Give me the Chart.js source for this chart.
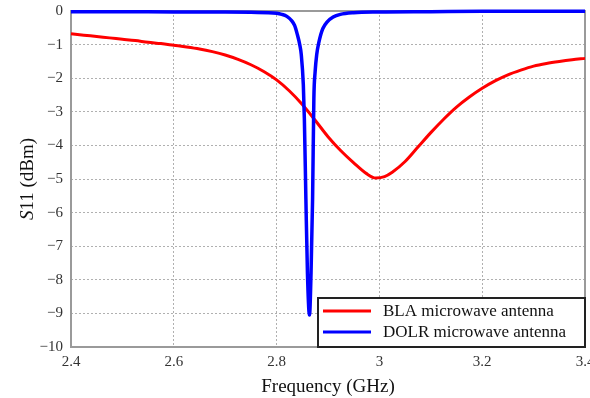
<!DOCTYPE html>
<html>
<head>
<meta charset="utf-8">
<script src="https://cdn.jsdelivr.net/npm/chart.js@4/dist/chart.umd.min.js"></script>
<style>
  html, body { margin: 0; padding: 0; background: #fff; }
  #wrap { width: 590px; height: 398px; }
</style>
</head>
<body>
<div id="wrap"><canvas id="chart-s11"></canvas></div>
<script>
// BLA microwave antenna
var freqBla = [2.400, 2.425, 2.450, 2.475, 2.500, 2.525, 2.550, 2.575, 2.600, 2.625, 2.650, 2.675, 2.700, 2.725, 2.750, 2.775, 2.800, 2.825, 2.850, 2.875, 2.900, 2.925, 2.950, 2.975, 2.993, 3.010, 3.025, 3.050, 3.075, 3.100, 3.125, 3.150, 3.175, 3.200, 3.225, 3.250, 3.275, 3.300, 3.325, 3.350, 3.375, 3.400];
var s11Bla  = [-0.68, -0.72, -0.76, -0.80, -0.84, -0.88, -0.93, -0.97, -1.02, -1.07, -1.13, -1.21, -1.31, -1.44, -1.60, -1.80, -2.05, -2.38, -2.78, -3.25, -3.74, -4.16, -4.52, -4.84, -4.97, -4.93, -4.80, -4.48, -4.05, -3.62, -3.22, -2.86, -2.56, -2.30, -2.08, -1.90, -1.76, -1.64, -1.56, -1.50, -1.45, -1.41];

// DOLR microwave antenna
var freqDolr = [2.40, 2.50, 2.60, 2.70, 2.75, 2.80, 2.81, 2.82, 2.83, 2.835, 2.84, 2.845, 2.848, 2.852, 2.854, 2.857, 2.860, 2.864, 2.867, 2.870, 2.8725, 2.875, 2.878, 2.882, 2.886, 2.89, 2.898, 2.91, 2.924, 2.95, 3.00, 3.10, 3.20, 3.40];
var s11Dolr  = [-0.02, -0.02, -0.03, -0.03, -0.04, -0.07, -0.10, -0.16, -0.30, -0.43, -0.68, -1.00, -1.30, -2.20, -3.20, -5.60, -7.80, -9.05, -7.80, -5.60, -2.60, -1.80, -1.30, -0.95, -0.70, -0.52, -0.33, -0.18, -0.10, -0.05, -0.03, -0.02, -0.01, -0.01];

var xTicks = [2.4, 2.6, 2.8, 3.0, 3.2, 3.4];

function pts(xs, ys) {
    return xs.map(function (x, i) { return { x: x, y: ys[i] }; });
}

var serif = "'Liberation Serif', 'DejaVu Serif', serif";

// frame + y title + legend box
var extras = {
    id: 'extras',
    beforeDatasetsDraw: function (chart) {
        var a = chart.chartArea, c = chart.ctx;
        c.save();
        c.strokeStyle = '#9a9a9a';
        c.lineWidth = 2;
        c.strokeRect(a.left, a.top, a.right - a.left, a.bottom - a.top);
        c.restore();
    },
    afterDraw: function (chart) {
        var a = chart.chartArea, c = chart.ctx;
        // y axis title with italic S
        c.save();
        c.translate(28, (a.top + a.bottom) / 2);
        c.rotate(-Math.PI / 2);
        c.fillStyle = '#111';
        c.textBaseline = 'middle';
        c.font = 'italic 19px ' + serif;
        var w1 = c.measureText('S').width;
        c.font = '19px ' + serif;
        var w2 = c.measureText('11 (dBm)').width;
        var x0 = -(w1 + w2) / 2;
        c.font = 'italic 19px ' + serif;
        c.fillText('S', x0, 0);
        c.font = '19px ' + serif;
        c.fillText('11 (dBm)', x0 + w1, 0);
        c.restore();

        // legend
        var bx = 318, by = 298, bw = a.right - bx, bh = a.bottom - by;
        c.save();
        c.fillStyle = '#fff';
        c.fillRect(bx, by, bw, bh);
        c.strokeStyle = '#222';
        c.lineWidth = 2;
        c.strokeRect(bx, by, bw, bh);
        c.font = '17px ' + serif;
        c.textBaseline = 'middle';
        chart.data.datasets.forEach(function (ds, i) {
            var yy = by + 13 + i * 21;
            c.strokeStyle = ds.borderColor;
            c.lineWidth = 3;
            c.beginPath();
            c.moveTo(323, yy);
            c.lineTo(371, yy);
            c.stroke();
            c.fillStyle = '#111';
            c.fillText(ds.label, 383, yy + 1);
        });
        c.restore();
    }
};

var ctx = document.getElementById("chart-s11").getContext("2d");
var chart = new Chart(ctx, {
    type: 'line',
    data: {
        datasets: [{
            label: 'BLA microwave antenna',
            data: pts(freqBla, s11Bla),
            borderColor: 'rgb(255,0,0)',
            borderWidth: 3,
            order: 2
        }, {
            label: 'DOLR microwave antenna',
            data: pts(freqDolr, s11Dolr),
            borderColor: 'rgb(0,0,255)',
            borderWidth: 3.5,
            order: 1
        }]
    },
    plugins: [extras],
    options: {
        responsive: true,
        maintainAspectRatio: false,
        animation: false,
        layout: { padding: { top: 11, right: 5, left: 0, bottom: 0 } },
        elements: {
            point: { radius: 0 },
            line: { tension: 0.4, cubicInterpolationMode: 'monotone' }
        },
        datasets: { line: { clip: 5 } },
        plugins: {
            legend: { display: false },
            tooltip: { enabled: false }
        },
        scales: {
            x: {
                type: 'linear',
                min: 2.4,
                max: 3.4,
                afterBuildTicks: function (s) {
                    s.ticks = xTicks.map(function (v) { return { value: v }; });
                },
                afterFit: function (s) {
                    s.height = 51;
                    s.paddingLeft = 0;
                    s.paddingRight = 0;
                },
                border: { display: false, dash: [2, 2] },
                grid: { color: '#b0b0b0', lineWidth: 1, drawTicks: false },
                ticks: {
                    color: '#333',
                    padding: 6,
                    maxRotation: 0,
                    autoSkip: false,
                    font: { family: serif, size: 15 },
                    callback: function (v) { return String(Number(v.toFixed(1))); }
                },
                title: {
                    display: true,
                    text: 'Frequency (GHz)',
                    color: '#111',
                    padding: { top: 6, bottom: 0 },
                    font: { family: serif, size: 19 }
                }
            },
            y: {
                min: -10,
                max: 0,
                afterFit: function (s) {
                    s.width = 71;
                    s.paddingTop = 0;
                    s.paddingBottom = 0;
                },
                border: { display: false, dash: [2, 2] },
                grid: { color: '#b0b0b0', lineWidth: 1, drawTicks: false },
                ticks: {
                    stepSize: 1,
                    color: '#333',
                    padding: 8,
                    font: { family: serif, size: 15 },
                    callback: function (v) { return v < 0 ? '\u2212' + Math.abs(v) : String(v); }
                }
            }
        }
    }
});
</script>
</body>
</html>
